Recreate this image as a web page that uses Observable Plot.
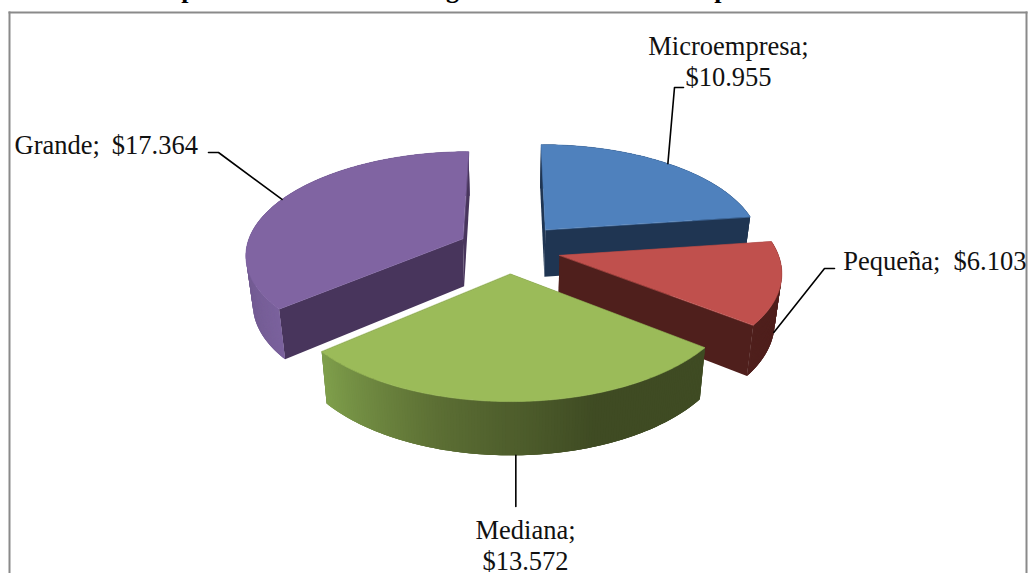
<!DOCTYPE html>
<html><head><meta charset="utf-8">
<script src="https://cdn.jsdelivr.net/npm/d3@7"></script>
<script src="https://cdn.jsdelivr.net/npm/@observablehq/plot@0.6"></script>
<style>html,body{margin:0;padding:0;background:#fff;overflow:hidden}svg{display:block}</style>
</head><body><div id="chart"></div>
<script>
// Data
const categories = ["Microempresa", "Pequeña", "Mediana", "Grande"];
const values = [10955, 6103, 13572, 17364];
// Styles
const topColors = ["#4f81bd", "#c0504d", "#9bbb59", "#8064a2"];
const wallColors = ["#1f3552", "#4f1f1c", "#3f4b23", "#48355c"];
const arcRamps = [
  ["#1f3552", "#1f3552"],
  ["#4f1f1c", "#4f1f1c"],
  ["#3f4b23", "#3f4b23", "#5c6f34", "#80a04c"],
  ["#7a619c", "#64507f", "#5a4775"]
];
const drawOrder = [0, 3, 1, 2];
const explodeBy = [0.258, 0.237, 0.237, 0.24];

const W = 1030, H = 573, unit = 217, cx = 509, cy = 248.5;
const persp = 0.14, sink = 0.027, tilt = 0.47, depth = 0.226;
const fromPx = ([px, py]) => ({x: (px - cx) / unit, y: (py - cy) / unit});
const project = (X, Y, Z) => {
  const w = (1 - persp * Y) * (1 + sink * Z);
  return {x: X / w, y: (tilt * Y + depth * Z) / w};
};

const total = d3.sum(values);
let acc = 0;
const slices = values.map((v, i) => {
  const a0 = acc / total * 2 * Math.PI; acc += v;
  const a1 = acc / total * 2 * Math.PI;
  const mid = (a0 + a1) / 2;
  return {i, a0, a1, mid, ox: explodeBy[i] * Math.sin(mid), oy: -explodeBy[i] * Math.cos(mid)};
});
const rim = (s, a) => [s.ox + Math.sin(a), s.oy - Math.cos(a)];

// Side faces and top of each slice, as closed outlines
let fid = 0;
const sliceMarks = drawOrder.flatMap(i => {
  const s = slices[i], faces = [];
  const wall = (a) => {
    const [X, Y] = rim(s, a);
    return {depth: (Y + s.oy) / 2, color: wallColors[i],
      pts: [project(s.ox, s.oy, 0), project(X, Y, 0), project(X, Y, 1), project(s.ox, s.oy, 1)]};
  };
  faces.push(wall(s.a0), wall(s.a1));
  const n = Math.ceil((s.a1 - s.a0) / 0.012);
  const step = (s.a1 - s.a0) / n;
  const ramp = d3.piecewise(d3.interpolateRgb, arcRamps[i]);
  for (let k = 0; k < n; k++) {
    const a = s.a0 + step * k;
    // each strip laps a little under its neighbours so no seam shows
    const a2 = Math.max(s.a0, a - step), b2 = Math.min(s.a1, a + 2 * step);
    const strip = [];
    for (const t of [a2, a + step / 2, b2]) { const [X, Y] = rim(s, t); strip.push(project(X, Y, 0)); }
    for (const t of [b2, a + step / 2, a2]) { const [X, Y] = rim(s, t); strip.push(project(X, Y, 1)); }
    const [, Yc] = rim(s, a + step / 2);
    faces.push({depth: Yc, color: ramp((k + .5) / n), pts: strip});
  }
  faces.sort((a, b) => a.depth - b.depth);
  const sideRows = faces.flatMap(f => {
    const id = fid++;
    return f.pts.map(p => ({...p, id, color: f.color}));
  });
  const topRows = [project(s.ox, s.oy, 0)];
  for (let k = 0; k <= n; k++) {
    const [X, Y] = rim(s, s.a0 + step * k);
    topRows.push(project(X, Y, 0));
  }
  return [
    Plot.line(sideRows, {x: "x", y: "y", z: "id", fill: "color", stroke: "none", curve: "linear-closed"}),
    Plot.line(topRows, {x: "x", y: "y", fill: topColors[i], stroke: topColors[i], strokeWidth: 0.6, curve: "linear-closed"})
  ];
});

// Label layout, in pixels of the page
const fmt = v => "$" + d3.format(",")(v).replace(",", ".");
const labelLayout = [
  {at: [728, 60], sep: ";\n", anchor: "middle", side: "top", elbow: [[674, 87], [683, 87]]},
  {at: [1026, 259.5], sep: ";\u00a0 ", anchor: "end", side: "bottom", elbow: [[824, 268], [834, 268]]},
  {at: [525, 544], sep: ";\n", anchor: "middle", side: "bottom", drop: 506},
  {at: [14, 143.5], sep: ";\u00a0\u2009", anchor: "start", side: "top", elbow: [[218, 152], [208, 152]]}
];
const labels = categories.map((c, i) => ({
  ...fromPx(labelLayout[i].at),
  text: c + labelLayout[i].sep + fmt(values[i]),
  anchor: labelLayout[i].anchor
}));
const leaders = slices.flatMap((s, i) => {
  const [X, Y] = rim(s, s.mid);
  const L = labelLayout[i];
  const start = project(X, Y, L.side === "top" ? 0 : 1);
  const rest = L.drop ? [{x: start.x, y: fromPx([0, L.drop]).y}] : L.elbow.map(fromPx);
  return [start, ...rest].map(p => ({...p, i}));
});

// The title is cut off by the top of the picture: only these letters show
const titleFragments = [["p", [188, -3]], ["g", [452, -3]], ["p", [721, -3]]]
  .map(([text, at]) => ({text, ...fromPx(at)}));

const font = "Liberation Serif";
const textMark = (anchor) => Plot.text(labels.filter(d => d.anchor === anchor), {
  x: "x", y: "y", text: "text", textAnchor: anchor, lineAnchor: "middle",
  lineHeight: 1.17, fontSize: 26.5, fontFamily: font, fill: "#111"
});
const chart = Plot.plot({
  width: W, height: H, margin: 0, marginTop: 12, marginLeft: 9, marginRight: 4, marginBottom: 0,
  style: {background: "#fff"},
  x: {domain: [-cx / unit, (W - cx) / unit], range: [0, W], axis: null},
  y: {domain: [-cy / unit, (H - cy) / unit], range: [0, H], axis: null},
  marks: [
    Plot.frame({anchor: "top", stroke: "#8a8a8a", strokeWidth: 2}),
    Plot.frame({anchor: "left", stroke: "#8a8a8a", strokeWidth: 2}),
    Plot.frame({anchor: "right", stroke: "#8a8a8a", strokeWidth: 2}),
    Plot.text(titleFragments, {x: "x", y: "y", text: "text", fontSize: 26, fontWeight: "bold",
      fontFamily: font, lineAnchor: "bottom", fill: "#000"}),
    ...sliceMarks,
    Plot.line(leaders, {x: "x", y: "y", z: "i", stroke: "#000", strokeWidth: 1.6, curve: "linear"}),
    textMark("middle"), textMark("start"), textMark("end")
  ]
});
document.getElementById("chart").append(chart);
</script>
</body></html>
